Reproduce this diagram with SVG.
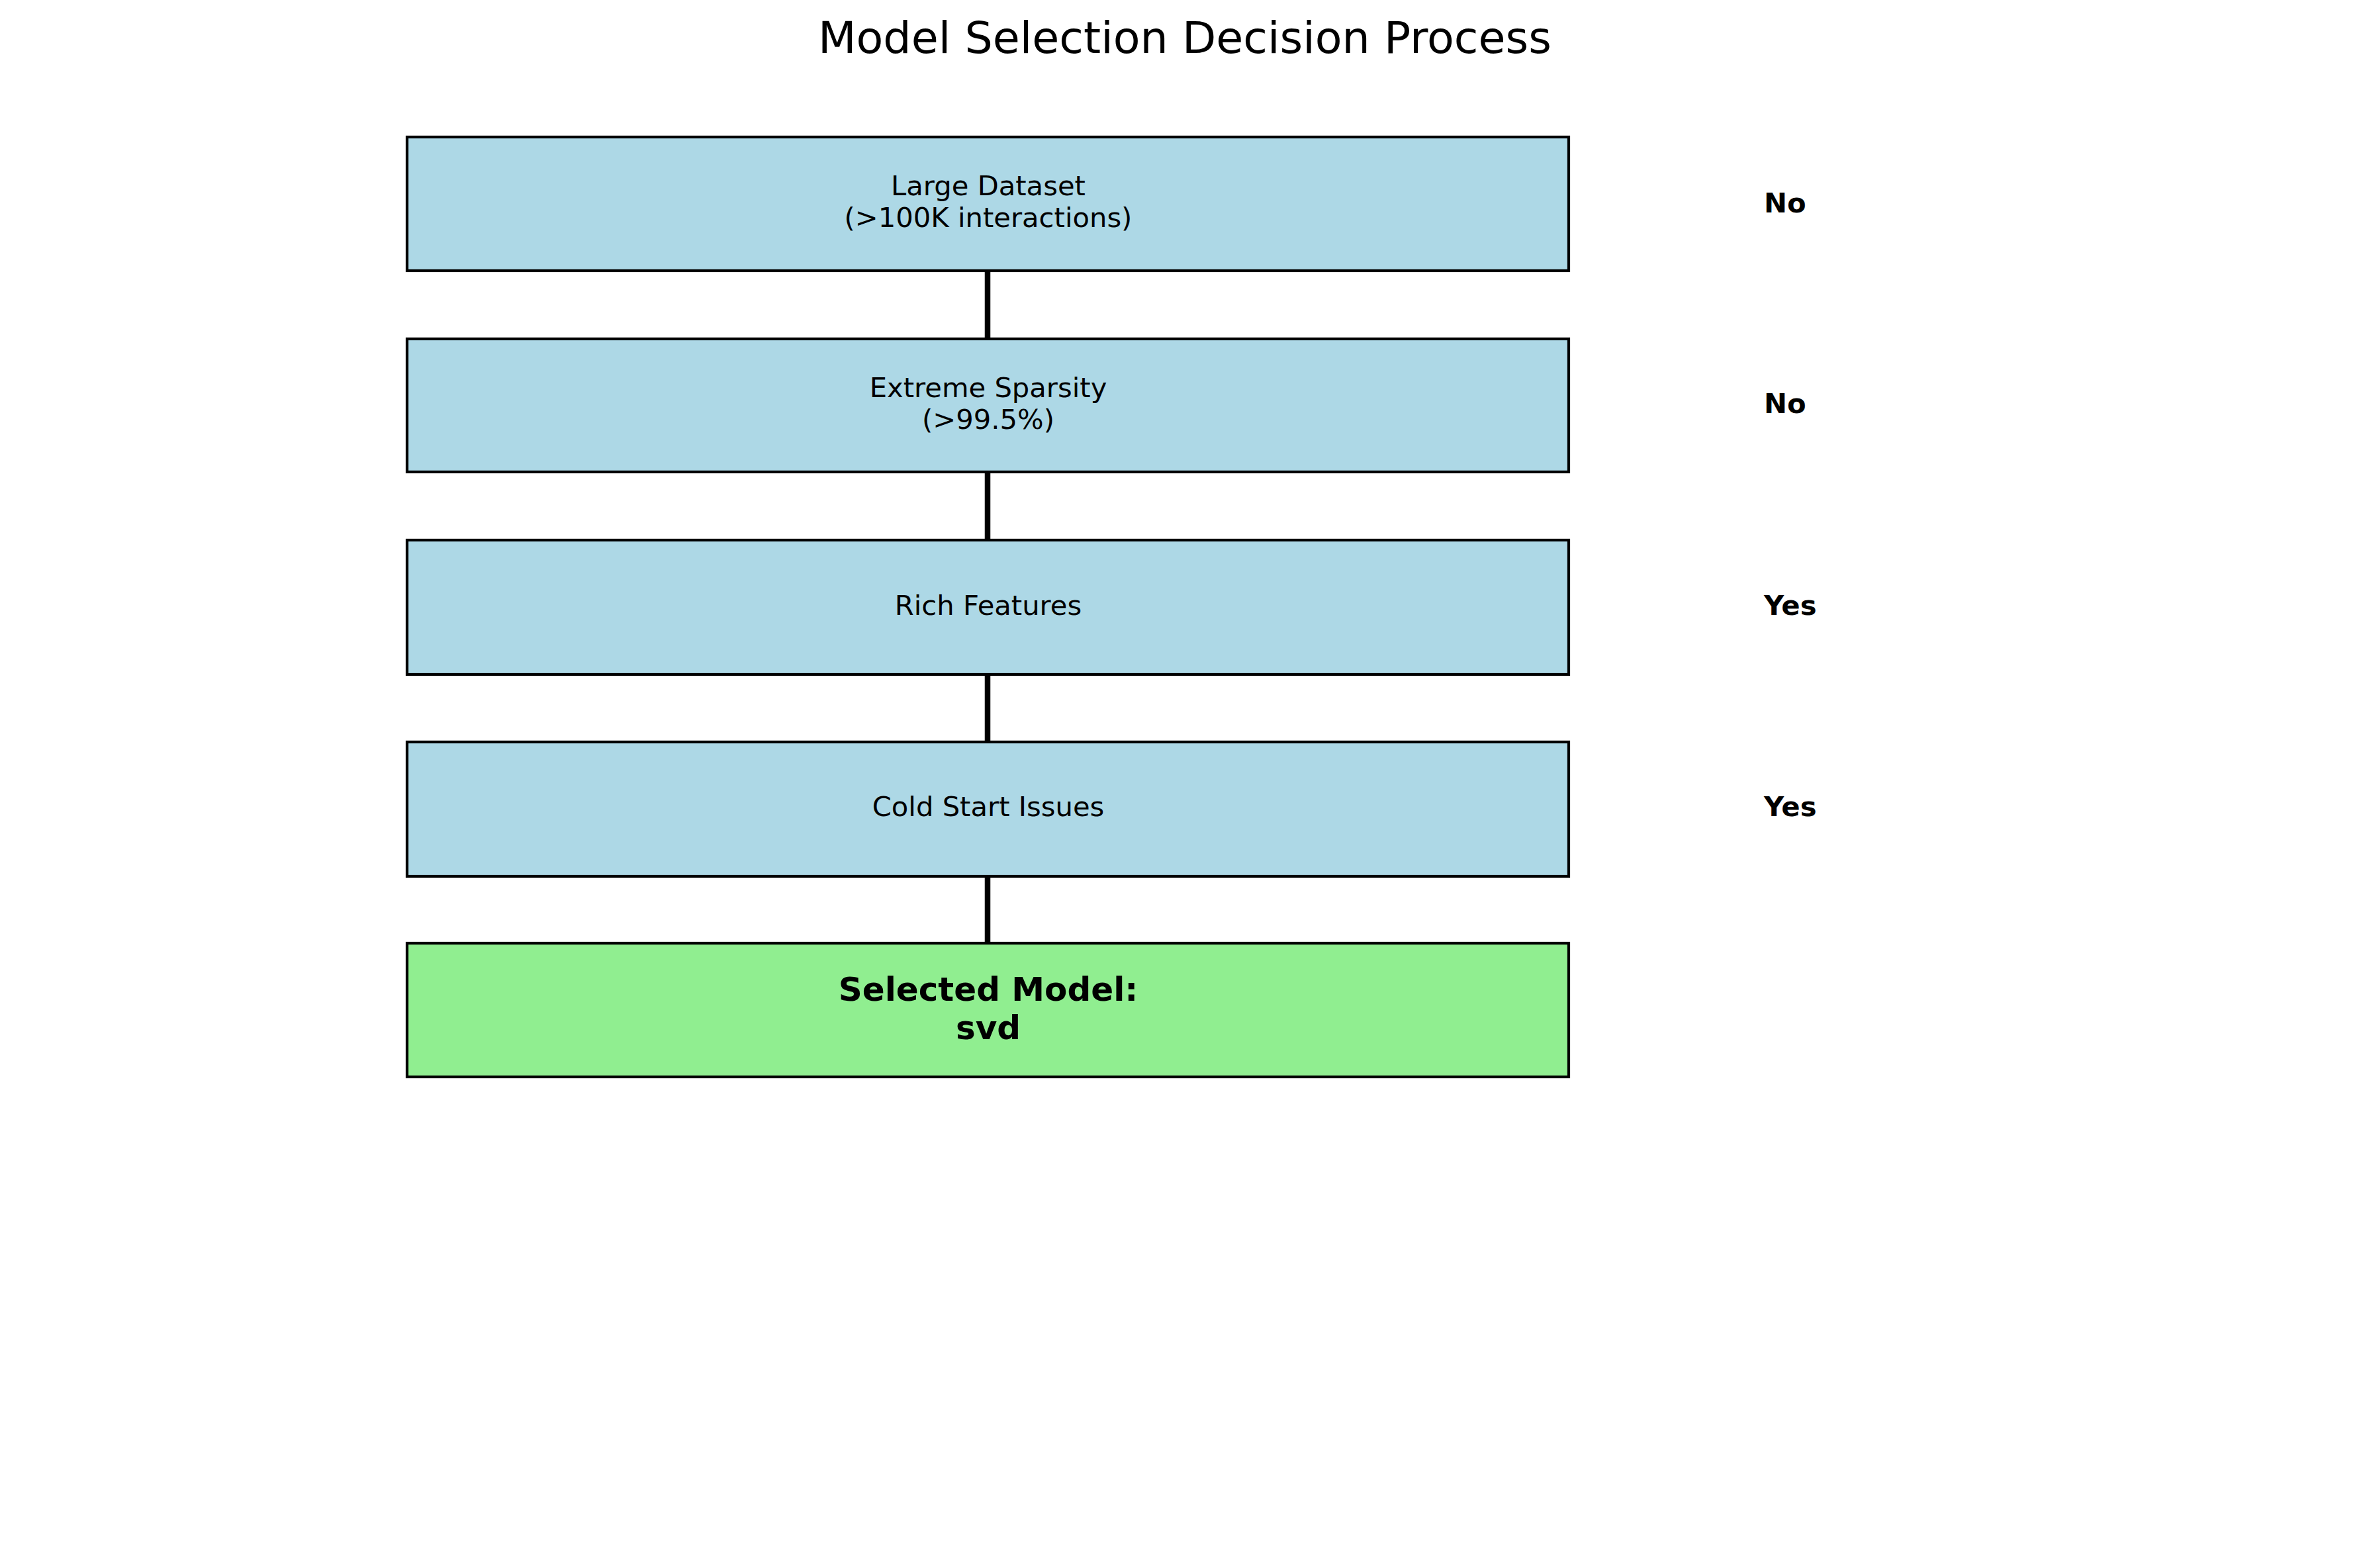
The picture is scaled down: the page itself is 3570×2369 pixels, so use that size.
<svg xmlns="http://www.w3.org/2000/svg" width="3570" height="2369" viewBox="0 0 3570 2369">
<style>
  text { font-family: "DejaVu Sans", "Liberation Sans", sans-serif; fill: #000; }
  .title { font-size: 66.7px; text-anchor: middle; }
  .box { fill: #ADD8E6; stroke: #000; stroke-width: 4.2; }
  .final { fill: #90EE90; stroke: #000; stroke-width: 4.2; }
  .lbl { font-size: 41.7px; text-anchor: middle; }
  .flbl { font-size: 50px; font-weight: bold; text-anchor: middle; }
  .ans { font-size: 41.7px; font-weight: bold; text-anchor: start; }
  .conn { stroke: #000; stroke-width: 8.5; fill: none; }
</style>
<rect x="0" y="0" width="3570" height="2369" fill="#fff"/>
<text class="title" x="1790" y="80">Model Selection Decision Process</text>
<g id="connectors">
  <line class="conn" x1="1492" y1="409" x2="1492" y2="512"/>
  <line class="conn" x1="1492" y1="713" x2="1492" y2="816"/>
  <line class="conn" x1="1492" y1="1019" x2="1492" y2="1121"/>
  <line class="conn" x1="1492" y1="1324" x2="1492" y2="1425"/>
</g>
<g id="node-large-dataset">
  <rect class="box" x="615" y="207" width="1755" height="202"/>
  <text class="lbl" x="1493" y="295">Large Dataset</text>
  <text class="lbl" x="1493" y="343">(&gt;100K interactions)</text>
  <text class="ans" x="2665" y="321">No</text>
</g>
<g id="node-extreme-sparsity">
  <rect class="box" x="615" y="512" width="1755" height="201"/>
  <text class="lbl" x="1493" y="600">Extreme Sparsity</text>
  <text class="lbl" x="1493" y="648">(&gt;99.5%)</text>
  <text class="ans" x="2665" y="624">No</text>
</g>
<g id="node-rich-features">
  <rect class="box" x="615" y="816" width="1755" height="203"/>
  <text class="lbl" x="1493" y="929">Rich Features</text>
  <text class="ans" x="2665" y="929">Yes</text>
</g>
<g id="node-cold-start">
  <rect class="box" x="615" y="1121" width="1755" height="203"/>
  <text class="lbl" x="1493" y="1233">Cold Start Issues</text>
  <text class="ans" x="2665" y="1233">Yes</text>
</g>
<g id="node-selected-model">
  <rect class="final" x="615" y="1425" width="1755" height="202"/>
  <text class="flbl" x="1493" y="1512">Selected Model:</text>
  <text class="flbl" x="1493" y="1570">svd</text>
</g>
</svg>
